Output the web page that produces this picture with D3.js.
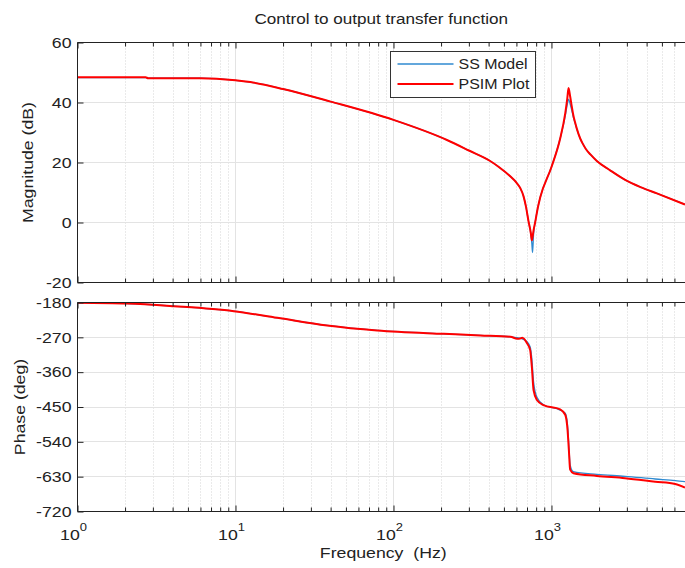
<!DOCTYPE html>
<html>
<head>
<meta charset="utf-8">
<script src="https://cdn.jsdelivr.net/npm/d3@7"></script>
<style>
	body { margin: 0; background: #fff; }
	text { font-family: "Liberation Sans", Arial, sans-serif; fill: #222; }
</style>
</head>
<body>
<div id="chart"></div>
<script>

//частоты и значения АЧХ
var magFreq = [1, 2.7, 2.8, 6, 10, 12.4, 20, 40, 100, 218, 300, 409, 462, 548, 600, 634, 665, 690, 715, 740, 751, 759, 770, 788, 820, 848, 1000, 1135, 1222, 1260, 1282, 1313, 1345, 1377, 1410, 1448, 1520, 1580, 1650, 1770, 1937, 2350, 2926, 3700, 4646, 7000];
var magSS   = [48.3, 48.3, 48.1, 48.1, 47.4, 46.8, 44.5, 40.3, 34.2, 27.5, 24.0, 20.5, 18.6, 15.4, 13.3, 11.5, 8.8, 5.2, 0.5, -3.8, -7, -10, -4, 0, 5, 8.3, 18.5, 28, 35.5, 39.5, 41.1, 39.5, 37.3, 35.0, 33.2, 31.1, 28.0, 26.2, 24.5, 22.6, 20.5, 17.4, 14.2, 11.7, 9.7, 6.0];
var magPSIM = [48.4, 48.4, 48.1, 48.1, 47.4, 46.8, 44.5, 40.3, 34.2, 27.5, 24.0, 20.5, 18.6, 15.4, 13.3, 11.5, 8.8, 5.2, 0.5, -3.5, -5.9, -4.8, -2.6, 0, 5, 8.3, 18.5, 28, 36.4, 41.5, 44.8, 42.0, 38.6, 35.6, 33.4, 31.2, 28.0, 26.2, 24.5, 22.6, 20.5, 17.4, 14.2, 11.7, 9.7, 6.0];

//частоты и значения ФЧХ
var phaseFreq = [1, 2.06, 4.07, 9.75, 18.4, 38, 78.8, 208, 354, 550, 607, 634, 653, 702, 733, 751, 770, 809, 889, 1135, 1222, 1264, 1290, 1313, 1377, 1937, 2926, 4536, 6070, 7000];
var phaseSS   = [-180.5, -182.6, -189.6, -202.4, -219.6, -239.3, -252.2, -261, -265, -268.6, -271, -272, -274, -282, -295, -325, -385, -425, -444, -458, -466, -497, -555, -600, -617, -624, -629, -636, -640, -643];
var phasePSIM = [-180.5, -182.6, -189.6, -202.4, -219.6, -239.3, -252.2, -261, -265, -268.6, -273.8, -273, -271, -286, -303, -346, -406, -432, -445, -456, -470, -509, -565, -612, -621, -628, -634, -643, -649, -658];

//подписи делений
var xTicks = [1, 10, 100, 1000];
var magTicks = [60, 40, 20, 0, -20];
var phaseTicks = [-180, -270, -360, -450, -540, -630, -720];
var seriesNames = ['SS Model', 'PSIM Plot'];
var seriesColors = ['#2f8ad0', '#ff0000'];

var svgWidth = 685;
var svgHeight = 568;
var left = 77.5;
var right = 685;
var stretch = 1.18; //шрифт в оригинале заметно шире

var svg = d3.select('#chart')
	.append('svg')
	.attr('width', svgWidth)
	.attr('height', svgHeight)
;

var x = d3.scaleLog()
	.domain([1, 7000])
	.range([left, right])
;

var yMag = d3.scaleLinear()
	.domain([-20, 60])
	.range([282.5, 42.5])
;

var yPhase = d3.scaleLinear()
	.domain([-720, -180])
	.range([511.5, 302.5])
;

//малые деления по оси частот
var minorTicks = [];
xTicks.forEach(function(d) {
	for (var k = 2; k <= 9; k++) {
		if (k * d < 7000) minorTicks.push(k * d);
	}
});

drawPanel(yMag, magTicks, magFreq, [magSS, magPSIM], 'Magnitude (dB)', 33);
drawPanel(yPhase, phaseTicks, phaseFreq, [phaseSS, phasePSIM], 'Phase (deg)', 25);

//заголовок
svg.append('text')
	.attr('transform', 'translate(' + ((left + right) / 2) + ',24) scale(' + stretch + ',1)')
	.attr('text-anchor', 'middle')
	.style('font-size', '14.5px')
	.text('Control to output transfer function')
;

//подписи оси частот
var xLab = svg.append('g');
xTicks.forEach(function(d) {
	var t = xLab.append('text')
		.attr('transform', 'translate(' + (x(d) - 4) + ',540) scale(' + stretch + ',1)')
		.attr('text-anchor', 'middle')
		.style('font-size', '15px')
		.text('10')
	;
	t.append('tspan')
		.attr('dy', -9)
		.style('font-size', '11px')
		.text(Math.round(Math.log10(d)))
	;
});

svg.append('text')
	.attr('transform', 'translate(' + ((left + right) / 2 + 2) + ',558) scale(' + stretch + ',1)')
	.attr('text-anchor', 'middle')
	.style('font-size', '15px')
	.style('white-space', 'pre')
	.text('Frequency  (Hz)')
;

//легенда
var legend = svg.append('g').attr('transform', 'translate(390.5,51.5)');
legend.append('rect')
	.attr('width', 145)
	.attr('height', 46)
	.style('fill', '#fff')
	.style('stroke', '#333')
	.style('stroke-width', 1)
;
seriesNames.forEach(function(name, i) {
	legend.append('line')
		.attr('x1', 7)
		.attr('x2', 63)
		.attr('y1', 12.5 + i * 20)
		.attr('y2', 12.5 + i * 20)
		.style('stroke', seriesColors[i])
		.style('stroke-width', i == 0 ? 1.3 : 2)
	;
	legend.append('text')
		.attr('transform', 'translate(68,' + (17.5 + i * 20) + ') scale(1.14,1)')
		.style('font-size', '14px')
		.text(name)
	;
});

function drawPanel(y, yTicks, freq, series, label, labelX) {
	var y0 = y.range()[0];
	var y1 = y.range()[1];
	var g = svg.append('g');

	//сетка: малая пунктиром, основная сплошной
	g.selectAll('.minor')
		.data(minorTicks)
		.enter()
		.append('line')
		.attr('x1', function(d) { return Math.round(x(d)) + 0.5; })
		.attr('x2', function(d) { return Math.round(x(d)) + 0.5; })
		.attr('y1', y1)
		.attr('y2', y0)
		.style('stroke', '#d4d4d4')
		.style('stroke-dasharray', '1,2')
	;
	g.selectAll('.gx')
		.data(xTicks.slice(1))
		.enter()
		.append('line')
		.attr('x1', function(d) { return Math.round(x(d)) + 0.5; })
		.attr('x2', function(d) { return Math.round(x(d)) + 0.5; })
		.attr('y1', y1)
		.attr('y2', y0)
		.style('stroke', '#e3e3e3')
	;
	g.selectAll('.gy')
		.data(yTicks)
		.enter()
		.append('line')
		.attr('x1', left)
		.attr('x2', right)
		.attr('y1', function(d) { return Math.round(y(d) - 0.5) + 0.5; })
		.attr('y2', function(d) { return Math.round(y(d) - 0.5) + 0.5; })
		.style('stroke', '#e3e3e3')
	;

	//кривые
	var clipId = 'clip' + Math.round(y0);
	g.append('clipPath')
		.attr('id', clipId)
		.append('rect')
		.attr('x', left)
		.attr('y', y1)
		.attr('width', right - left)
		.attr('height', y0 - y1)
	;
	series.forEach(function(vals, i) {
		var line = d3.line()
			.x(function(d, j) { return x(freq[j]); })
			.y(function(d) { return y(d); })
			.curve(d3.curveMonotoneX)
		;
		g.append('path')
			.attr('d', line(vals))
			.attr('clip-path', 'url(#' + clipId + ')')
			.style('fill', 'none')
			.style('stroke', seriesColors[i])
			.style('stroke-width', i == 0 ? 1.3 : 2)
			.style('stroke-linejoin', 'round')
		;
	});

	//оси
	g.append('g')
		.attr('transform', 'translate(' + left + ',0)')
		.call(d3.axisLeft(y).tickValues(yTicks).tickSize(-6).tickPadding(6).tickFormat(function(d) { return String(d); }))
		.call(function(a) {
			a.selectAll('text')
				.attr('x', -6 / stretch)
				.attr('transform', 'scale(' + stretch + ',1)')
				.style('font-size', '15px')
				.style('fill', '#222')
			;
			a.select('.domain').remove();
		})
	;
	[y0, y1].forEach(function(yy, k) {
		var maj = k == 0 ? d3.axisBottom(x).tickSize(-6) : d3.axisTop(x).tickSize(-6);
		var mnr = k == 0 ? d3.axisBottom(x).tickSize(-4) : d3.axisTop(x).tickSize(-4);
		g.append('g')
			.attr('transform', 'translate(0,' + yy + ')')
			.call(maj.tickValues(xTicks).tickFormat(''))
			.call(function(a) { a.select('.domain').remove(); })
		;
		g.append('g')
			.attr('transform', 'translate(0,' + yy + ')')
			.call(mnr.tickValues(minorTicks).tickFormat(''))
			.call(function(a) { a.select('.domain').remove(); })
		;
	});
	g.selectAll('.tick line').style('stroke', '#222');

	//рамка без правой стороны
	g.append('path')
		.attr('d', 'M' + right + ',' + y1 + 'H' + left + 'V' + y0 + 'H' + right)
		.style('fill', 'none')
		.style('stroke', '#222')
		.style('stroke-width', 1)
	;

	g.append('text')
		.attr('transform', 'translate(' + labelX + ',' + ((y0 + y1) / 2) + ') rotate(-90) scale(' + stretch + ',1)')
		.attr('text-anchor', 'middle')
		.style('font-size', '15px')
		.text(label)
	;
}

</script>
</body>
</html>
